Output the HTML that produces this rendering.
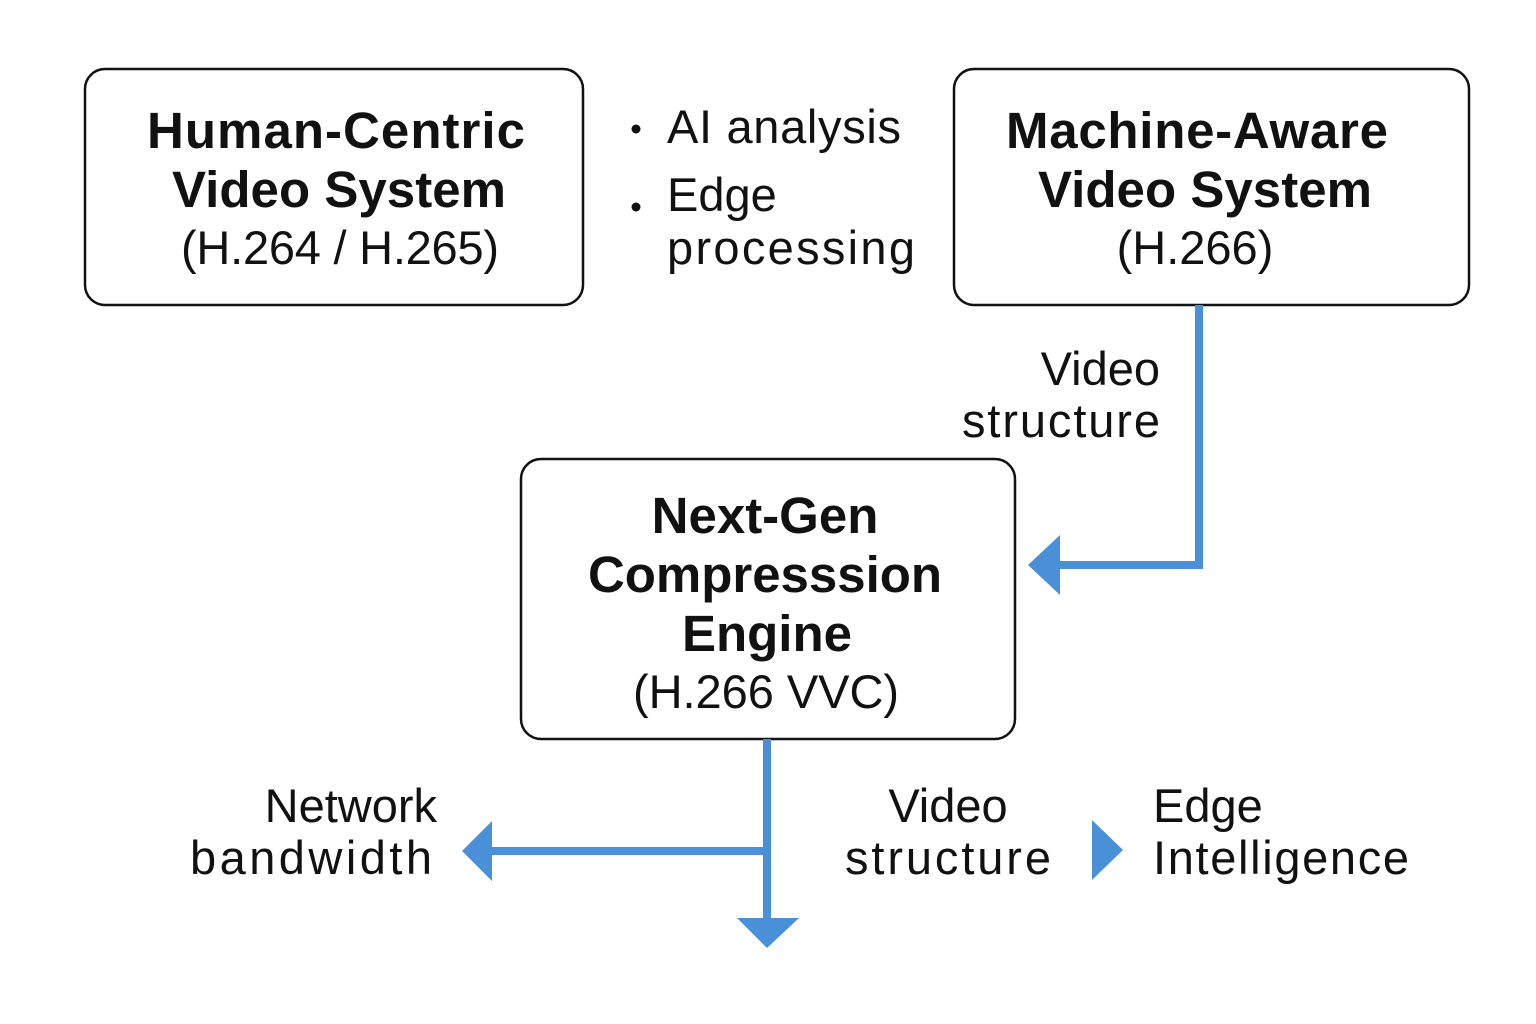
<!DOCTYPE html>
<html><head><meta charset="utf-8"><style>
html,body{margin:0;padding:0;background:#fff;}
svg{display:block;}
text{font-family:"Liberation Sans",sans-serif;fill:#111;}
.b{font-weight:bold;font-size:51px;}
.r{font-size:47px;}
</style></head><body>
<svg width="1536" height="1024" viewBox="0 0 1536 1024">
<rect x="85" y="69" width="498" height="236" rx="20" fill="#fff" stroke="#111" stroke-width="2.5"/>
<rect x="954" y="69" width="515" height="236" rx="20" fill="#fff" stroke="#111" stroke-width="2.5"/>
<rect x="521" y="459" width="494" height="280" rx="20" fill="#fff" stroke="#111" stroke-width="2.5"/>

<g text-anchor="middle">
<text class="b" x="336" y="148" textLength="378">Human-Centric</text>
<text class="b" x="339" y="207" textLength="334">Video System</text>
<text class="r" x="340" y="264" textLength="318">(H.264 / H.265)</text>

<text class="b" x="1197" y="148" textLength="382">Machine-Aware</text>
<text class="b" x="1205" y="207" textLength="334">Video System</text>
<text class="r" x="1195" y="264">(H.266)</text>

<text class="b" x="765" y="533">Next-Gen</text>
<text class="b" x="765" y="592" textLength="354">Compresssion</text>
<text class="b" x="767" y="651">Engine</text>
<text class="r" x="766" y="708" textLength="266">(H.266 VVC)</text>

<text class="r" x="948" y="822">Video</text>
<text class="r" x="948" y="874" textLength="206">structure</text>
</g>

<circle cx="636" cy="129" r="4.5" fill="#111"/>
<text class="r" x="667" y="143" textLength="234">AI analysis</text>
<circle cx="636" cy="207" r="4.5" fill="#111"/>
<text class="r" x="667" y="211">Edge</text>
<text class="r" x="667" y="264" textLength="248">processing</text>

<g text-anchor="end">
<text class="r" x="1160" y="385">Video</text>
<text class="r" x="1160" y="437" textLength="198">structure</text>
<text class="r" x="437" y="822">Network</text>
<text class="r" x="432" y="874" textLength="242">bandwidth</text>
</g>
<text class="r" x="1153" y="822">Edge</text>
<text class="r" x="1153" y="874" textLength="256">Intelligence</text>

<g fill="none" stroke="#4a90d9" stroke-width="8">
<polyline points="1199,305 1199,565 1058,565"/>
<line x1="767" y1="739" x2="767" y2="920"/>
<line x1="767" y1="851" x2="490" y2="851"/>
</g>
<g fill="#4a90d9">
<polygon points="1028,565 1060,535 1060,595"/>
<polygon points="767,948 737,918 799,918"/>
<polygon points="462,851 492,821 492,881"/>
<polygon points="1123,850 1092,820 1092,880"/>
</g>
</svg>
</body></html>
